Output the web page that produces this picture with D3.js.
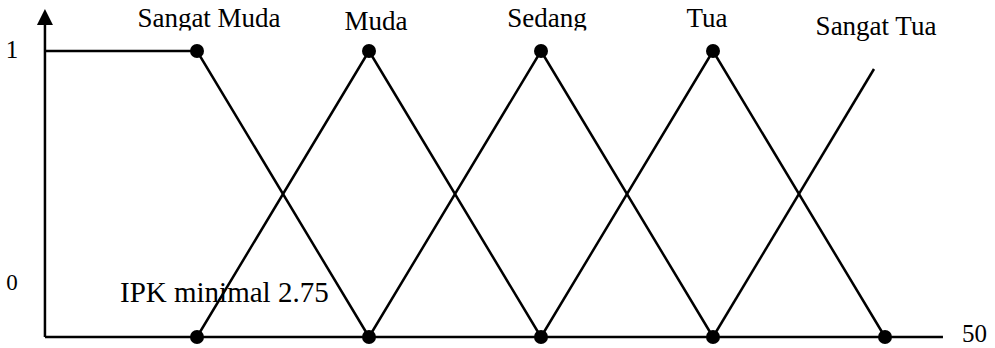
<!DOCTYPE html>
<html>
<head>
<meta charset="utf-8">
<script src="https://cdn.jsdelivr.net/npm/d3@7"></script>
<style>
  html, body { margin: 0; padding: 0; background: #fff; }
  svg { display: block; }
  text { font-family: "Liberation Serif", "Times New Roman", serif; fill: #000; }
</style>
</head>
<body>
<svg id="chart" width="995" height="348"></svg>
<script>
// ---- data ----
const categories = ["Sangat Muda", "Muda", "Sedang", "Tua", "Sangat Tua"];
const breakpoints = [1, 2, 3, 4, 5];
const xAxisExtent = [0.116, 5.337];
const yAxisExtent = [0, 1.147];
const sangatMuda = [[0.116, 1], [1, 1], [2, 0]];
const muda = [[1, 0], [2, 1], [3, 0]];
const sedang = [[2, 0], [3, 1], [4, 0]];
const tua = [[3, 0], [4, 1], [5, 0]];
const sangatTua = [[4, 0], [4.936, 0.937]];
const topPoints = [[1, 1], [2, 1], [3, 1], [4, 1]];
const bottomPoints = [[1, 0], [2, 0], [3, 0], [4, 0], [5, 0]];
const yTickLabels = ["0", "1"];
const xEndLabel = "50";
const noteLabel = "IPK minimal 2.75";

// ---- layout ----
const svg = d3.select("#chart");
const x = d3.scaleLinear().domain([1, 5]).range([197, 885]);
const y = d3.scaleLinear().domain([0, 1]).range([337, 51]);
const line = d3.line().x(d => x(d[0])).y(d => y(d[1]));

// axes
const x0 = x(xAxisExtent[0]);
svg.append("line")
  .attr("x1", x0).attr("x2", x(xAxisExtent[1]))
  .attr("y1", y(0)).attr("y2", y(0))
  .attr("stroke", "#000").attr("stroke-width", 2.5);
const tipY = y(yAxisExtent[1]);
svg.append("line")
  .attr("x1", x0).attr("x2", x0)
  .attr("y1", y(0)).attr("y2", tipY + 12)
  .attr("stroke", "#000").attr("stroke-width", 2.5);
svg.append("path")
  .attr("d", `M${x0},${tipY} L${x0 - 8},${tipY + 16} L${x0 + 8},${tipY + 16} Z`)
  .attr("fill", "#000");

// membership functions
[sangatMuda, muda, sedang, tua, sangatTua].forEach(s => {
  svg.append("path")
    .attr("d", line(s))
    .attr("fill", "none")
    .attr("stroke", "#000")
    .attr("stroke-width", 2.5);
});

// dots
svg.selectAll("circle.pt")
  .data(topPoints.concat(bottomPoints))
  .enter().append("circle")
  .attr("class", "pt")
  .attr("cx", d => x(d[0])).attr("cy", d => y(d[1]))
  .attr("r", 7).attr("fill", "#000");

// clip for top labels
svg.append("clipPath").attr("id", "topclip")
  .append("rect").attr("x", 0).attr("y", 0).attr("width", 995).attr("height", 30.5);

// category labels
const labelPos = [
  { dx: 12, dy: -24, clip: true },
  { dx: 7, dy: -21, clip: true },
  { dx: 6, dy: -24, clip: true },
  { dx: -6, dy: -24, clip: true },
  { dx: -9, dy: -16, clip: false }
];
categories.forEach((c, i) => {
  const t = svg.append("text")
    .attr("x", x(breakpoints[i]) + labelPos[i].dx)
    .attr("y", y(1) + labelPos[i].dy)
    .attr("text-anchor", "middle")
    .attr("font-size", 27)
    .text(c);
  if (labelPos[i].clip) t.attr("clip-path", "url(#topclip)");
});

// y labels
svg.append("text").attr("x", x0 - 33).attr("y", y(1) + 7)
  .attr("text-anchor", "middle").attr("font-size", 25).text(yTickLabels[1]);
svg.append("text").attr("x", x0 - 33).attr("y", y(0) - 47)
  .attr("text-anchor", "middle").attr("font-size", 23).text(yTickLabels[0]);

// x end label
svg.append("text").attr("x", x(xAxisExtent[1]) + 19).attr("y", y(0) + 5)
  .attr("text-anchor", "start").attr("font-size", 25).text(xEndLabel);

// note label
svg.append("text").attr("x", x(1) - 77).attr("y", y(0) - 35)
  .attr("text-anchor", "start").attr("font-size", 29).text(noteLabel);
</script>
</body>
</html>
